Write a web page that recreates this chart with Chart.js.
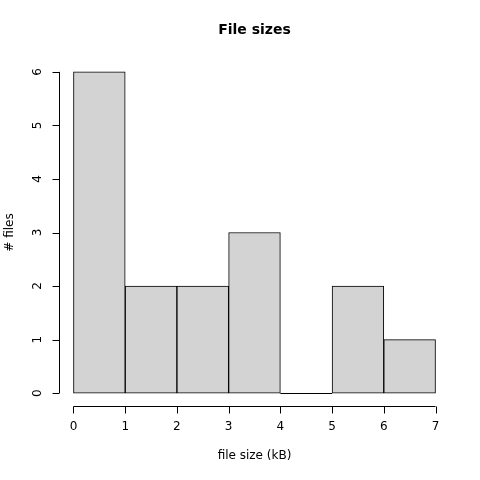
<!DOCTYPE html>
<html>
<head>
<meta charset="utf-8">
<script src="https://cdn.jsdelivr.net/npm/chart.js@4"></script>
<style>
  html, body { margin: 0; padding: 0; background: #fff; }
  #wrap { width: 480px; height: 480px; }
</style>
</head>
<body>
<div id="wrap"><canvas id="hist" width="480" height="480"></canvas></div>
<script>
// histogram breaks and counts
const breaks = [0, 1, 2, 3, 4, 5, 6, 7];
const counts = [6, 2, 2, 3, 0, 2, 1];
const xTicks = [0, 1, 2, 3, 4, 5, 6, 7];
const yTicks = [0, 1, 2, 3, 4, 5, 6];

const titleText = "File sizes";
const xLabel = "file size (kB)";
const yLabel = "# files";

const FONT = '"DejaVu Sans", sans-serif';

// bar centres from the breaks
const bars = counts.map((c, i) => ({ x: (breaks[i] + breaks[i + 1]) / 2, y: c }));

// R-style axes, drawn offset from the plot region
const rAxes = {
    id: "rAxes",
    afterDraw(chart) {
        const ctx = chart.ctx;
        const xs = chart.scales.x, ys = chart.scales.y;
        const area = chart.chartArea;
        ctx.save();
        ctx.strokeStyle = "#000";
        ctx.fillStyle = "#000";
        ctx.lineWidth = 1;

        // zero-count bins still show their bottom edge, like R's rect()
        const base = Math.round(ys.getPixelForValue(0)) + 0.5;
        ctx.beginPath();
        counts.forEach((c, i) => {
            if (c === 0) {
                ctx.moveTo(xs.getPixelForValue(breaks[i]), base);
                ctx.lineTo(xs.getPixelForValue(breaks[i + 1]), base);
            }
        });
        ctx.stroke();

        // x axis
        const ax = Math.round(area.bottom) + 0.5;
        ctx.beginPath();
        ctx.moveTo(xs.getPixelForValue(xTicks[0]), ax);
        ctx.lineTo(xs.getPixelForValue(xTicks[xTicks.length - 1]), ax);
        xTicks.forEach(t => {
            const px = Math.round(xs.getPixelForValue(t)) + 0.5;
            ctx.moveTo(px, ax);
            ctx.lineTo(px, ax + 7);
        });
        ctx.stroke();
        ctx.font = "12px " + FONT;
        ctx.textAlign = "center";
        ctx.textBaseline = "middle";
        xTicks.forEach(t => ctx.fillText(String(t), xs.getPixelForValue(t), 427));

        // y axis
        const ay = Math.round(area.left) + 0.5;
        ctx.beginPath();
        ctx.moveTo(ay, ys.getPixelForValue(yTicks[0]));
        ctx.lineTo(ay, ys.getPixelForValue(yTicks[yTicks.length - 1]));
        yTicks.forEach(t => {
            const py = Math.round(ys.getPixelForValue(t)) + 0.5;
            ctx.moveTo(ay, py);
            ctx.lineTo(ay - 7, py);
        });
        ctx.stroke();
        yTicks.forEach(t => {
            ctx.save();
            ctx.translate(38, ys.getPixelForValue(t));
            ctx.rotate(-Math.PI / 2);
            ctx.fillText(String(t), 0, 0);
            ctx.restore();
        });

        // titles
        const cx = (area.left + area.right) / 2;
        const cy = (area.top + area.bottom) / 2;
        ctx.font = "bold 14px " + FONT;
        ctx.fillText(titleText, cx, 30);
        ctx.font = "12px " + FONT;
        ctx.fillText(xLabel, cx, 456);
        ctx.save();
        ctx.translate(10, cy);
        ctx.rotate(-Math.PI / 2);
        ctx.fillText(yLabel, 0, 0);
        ctx.restore();
        ctx.restore();
    }
};

new Chart(document.getElementById("hist").getContext("2d"), {
    type: "bar",
    data: {
        datasets: [{
            data: bars,
            backgroundColor: "#D3D3D3",
            borderColor: "#000",
            borderWidth: 1,
            borderSkipped: false,
            barPercentage: 1,
            categoryPercentage: 1
        }]
    },
    options: {
        responsive: false,
        animation: false,
        layout: { padding: { left: 59, right: 30, top: 59, bottom: 74 } },
        plugins: { legend: { display: false }, tooltip: { enabled: false } },
        scales: {
            x: { type: "linear", offset: false, grid: { offset: false }, min: -0.28, max: 7.28, display: false },
            y: { min: -0.24, max: 6.24, display: false }
        }
    },
    plugins: [rAxes]
});
</script>
</body>
</html>
